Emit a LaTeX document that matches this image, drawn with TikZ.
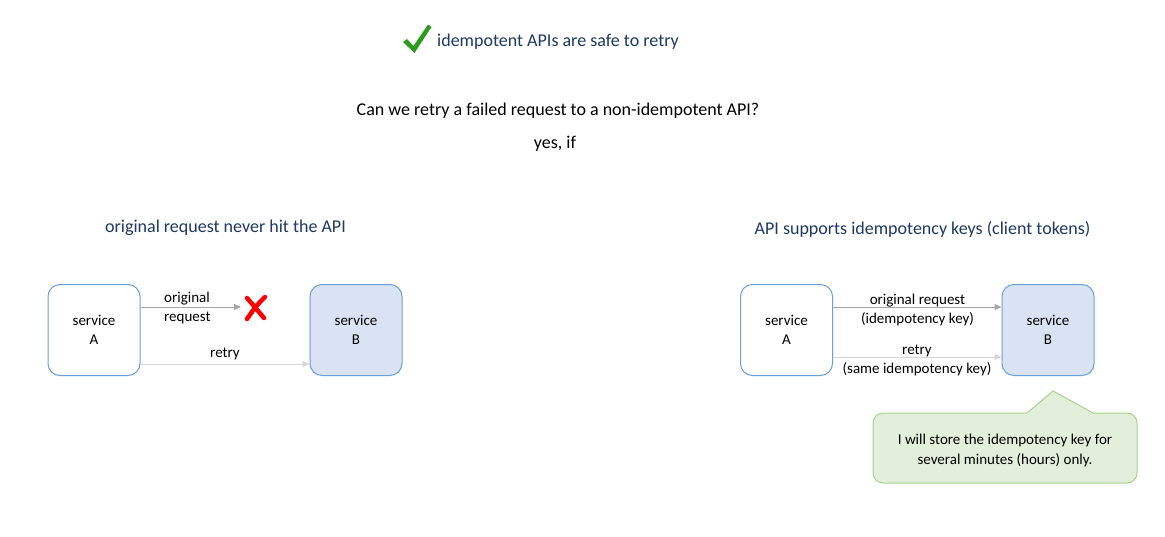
\documentclass[tikz,border=0pt]{standalone}
\usepackage{fontspec}
\setmainfont{Carlito}
\usetikzlibrary{arrows.meta}
\definecolor{navy}{HTML}{1F3864}
\definecolor{boxblue}{HTML}{6A9FDB}
\definecolor{bfill}{HTML}{DAE3F3}
\definecolor{arrgray}{HTML}{A6A6A6}
\definecolor{arrlight}{HTML}{D6D6D6}
\definecolor{cfill}{HTML}{E2EFDA}
\definecolor{cborder}{HTML}{A9D18E}
\definecolor{okgreen}{HTML}{2E9A1E}
\definecolor{xred}{HTML}{FF0000}
\begin{document}
\begin{tikzpicture}[x=1pt,y=-1pt,
  svc/.style={draw=boxblue, line width=1pt, rounded corners=12pt, minimum width=92pt, minimum height=91pt, align=center, font=\fontsize{15}{19}\selectfont, inner sep=0pt, text depth=0pt},
  lbl/.style={font=\fontsize{15}{18.5}\selectfont, inner sep=0pt, align=center},
  big/.style={font=\fontsize{18}{22}\selectfont, inner sep=0pt},
  arr/.style={-{Triangle[length=7pt,width=6pt]}, line width=0.9pt}]
\fill[white] (0,0) rectangle (1165,536);
\useasboundingbox (0,0) rectangle (1165,536);
% check mark
\fill[okgreen] (403,42) -- (407,39) -- (413.5,46) -- (428,24.5) -- (431.5,27) -- (414.5,53) -- cycle;
\node[big, text=navy, anchor=west] (t1) at (437,42) {idempotent APIs are safe to retry};
\node[big] (q) at (558,111) {Can we retry a failed request to a non-idempotent API?};
\node[big] (yes) at (555,143.5) {yes, if};
\node[big, text=navy] (h1) at (225.5,228) {original request never hit the API};
\node[big, text=navy] (h2) at (922.5,229) {API supports idempotency keys (client tokens)};
% left
\node[svc, fill=white] (a1) at (94,330) {service\\A};
\node[svc, fill=bfill] (b1) at (356,330) {service\\B};
\coordinate (xm) at (241,307);
\draw[arr, arrgray] (a1.east |- xm) -- (xm);
\node[lbl, align=left, anchor=west] (l1) at (164,308.2) {original\\request};
\draw[xred, line width=4.5pt, line cap=round] (247,298) .. controls (254,306) .. (264,318);
\draw[xred, line width=4.5pt, line cap=round] (265,297) .. controls (256,306) .. (247,319);
\draw[arr, arrlight] (a1.east |- 0,364) -- (b1.west |- 0,364);
\node[lbl] (l2) at (225,353.5) {retry};
% right
\node[svc, fill=white] (a2) at (786.5,330) {service\\A};
\node[svc, fill=bfill] (b2) at (1048,330) {service\\B};
\draw[arr, arrgray] (a2.east |- 0,307) -- (b2.west |- 0,307);
\node[lbl] (l3) at (917.5,310) {original request\\(idempotency key)};
\draw[arr, arrlight] (a2.east |- 0,357) -- (b2.west |- 0,357);
\node[lbl] (l4) at (917,360.5) {retry\\(same idempotency key)};
% callout
\draw[cborder, fill=cfill, line width=1pt] (1053,391) -- (1093,413)
  {[rounded corners=10pt] -- (1137,413) -- (1137,483) -- (873,483) -- (873,413)} -- (1027,413) -- cycle;
\node[lbl, font=\fontsize{15}{20}\selectfont] (note) at (1005,450.5) {I will store the idempotency key for\\several minutes (hours) only.};
\end{tikzpicture}
\end{document}
